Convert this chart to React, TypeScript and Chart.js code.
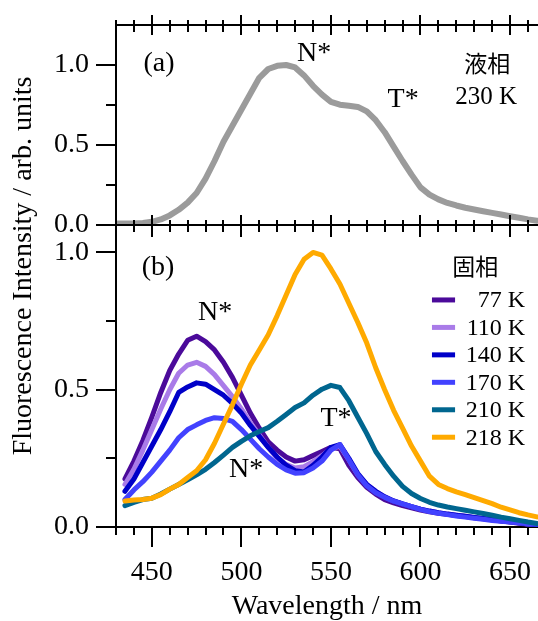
import React, { useEffect, useRef } from 'react';
import { Chart, registerables } from 'chart.js';

Chart.register(...registerables);

// ---------- data ----------
const liquidWavelengths = [
  430, 435, 440, 445, 450, 455, 460, 465, 470, 475,
  480, 485, 490, 495, 500, 505, 510, 515, 520, 525,
  530, 535, 540, 545, 550, 555, 560, 565, 570, 575,
  580, 585, 590, 595, 600, 605, 610, 615, 620, 625,
  630, 635, 640, 645, 650, 655, 660, 665,
];
const liquid230K = [
  0.01, 0.01, 0.01, 0.013, 0.02, 0.035, 0.06, 0.095, 0.14, 0.2,
  0.29, 0.4, 0.52, 0.62, 0.72, 0.82, 0.92, 0.975, 0.995, 1.0,
  0.985, 0.935, 0.87, 0.815, 0.77, 0.752, 0.745, 0.738, 0.71, 0.655,
  0.58, 0.49, 0.4, 0.315, 0.235, 0.19, 0.16, 0.138, 0.122, 0.108,
  0.097, 0.086, 0.076, 0.066, 0.055, 0.045, 0.035, 0.027,
];

const solidWavelengths = [
  435, 440, 445, 450, 455, 460, 465, 470, 475, 480,
  485, 490, 495, 500, 505, 510, 515, 520, 525, 530,
  535, 540, 545, 550, 555, 560, 565, 570, 575, 580,
  585, 590, 595, 600, 605, 610, 615, 620, 625, 630,
  635, 640, 645, 650, 655, 660, 665,
];
const solid77K = [
  0.175, 0.24, 0.315, 0.4, 0.49, 0.57, 0.63, 0.68, 0.695, 0.675,
  0.645, 0.6, 0.545, 0.48, 0.415, 0.36, 0.31, 0.28, 0.255, 0.24,
  0.245, 0.26, 0.275, 0.29, 0.285, 0.225, 0.18, 0.145, 0.12, 0.1,
  0.088, 0.078, 0.07, 0.062, 0.055, 0.05, 0.046, 0.042, 0.038, 0.034,
  0.03, 0.026, 0.022, 0.018, 0.014, 0.01, 0.007,
];
const solid110K = [
  0.155, 0.21, 0.28, 0.355, 0.43, 0.5, 0.56, 0.59, 0.6, 0.585,
  0.555, 0.515, 0.475, 0.43, 0.38, 0.335, 0.29, 0.25, 0.228, 0.215,
  0.22, 0.238, 0.26, 0.285, 0.295, 0.245, 0.19, 0.155, 0.13, 0.11,
  0.095, 0.084, 0.074, 0.065, 0.058, 0.052, 0.047, 0.043, 0.039, 0.035,
  0.031, 0.027, 0.023, 0.019, 0.015, 0.011, 0.008,
];
const solid140K = [
  0.13, 0.175, 0.235, 0.295, 0.355, 0.42, 0.49, 0.51, 0.525, 0.52,
  0.5, 0.48, 0.45, 0.415, 0.37, 0.33, 0.29, 0.255, 0.225, 0.205,
  0.2, 0.225, 0.255, 0.29, 0.3, 0.25, 0.195, 0.155, 0.13, 0.11,
  0.095, 0.084, 0.074, 0.065, 0.058, 0.052, 0.047, 0.043, 0.039, 0.035,
  0.031, 0.027, 0.023, 0.019, 0.015, 0.011, 0.008,
];
const solid170K = [
  0.1, 0.135, 0.165, 0.2, 0.24, 0.28, 0.325, 0.355, 0.372, 0.388,
  0.398, 0.395, 0.385, 0.355, 0.32, 0.285, 0.255, 0.228, 0.208, 0.196,
  0.198, 0.215, 0.24, 0.28, 0.3, 0.245, 0.19, 0.15, 0.125, 0.108,
  0.094, 0.084, 0.074, 0.064, 0.056, 0.05, 0.045, 0.04, 0.036, 0.032,
  0.028, 0.024, 0.021, 0.018, 0.015, 0.012, 0.01,
];
const solid210K = [
  0.078, 0.09, 0.1, 0.105, 0.12, 0.138, 0.155, 0.172, 0.19, 0.21,
  0.235, 0.262, 0.29, 0.312, 0.332, 0.348, 0.362, 0.385, 0.41, 0.435,
  0.452, 0.48, 0.502, 0.516, 0.508, 0.46, 0.4, 0.34, 0.275, 0.228,
  0.185, 0.148, 0.122, 0.104, 0.09, 0.08, 0.073, 0.067, 0.061, 0.055,
  0.049, 0.043, 0.036, 0.03, 0.024, 0.018, 0.013,
];
const solid218K = [
  0.095, 0.098, 0.1, 0.105, 0.118, 0.138, 0.155, 0.18, 0.205, 0.245,
  0.305, 0.375, 0.445, 0.52, 0.59, 0.645, 0.7, 0.77, 0.845, 0.92,
  0.975, 1.0, 0.99, 0.94, 0.885, 0.815, 0.745, 0.67, 0.58, 0.5,
  0.425, 0.36, 0.295, 0.24, 0.185, 0.155, 0.14, 0.128, 0.118, 0.107,
  0.096, 0.085, 0.072, 0.062, 0.052, 0.044, 0.037,
];

const solidSeries = [solid77K, solid110K, solid140K, solid170K, solid210K, solid218K];
const solidLabels = ['77 K', '110 K', '140 K', '170 K', '210 K', '218 K'];

const xMajorTicks = [450, 500, 550, 600, 650];
const xMinorTicks = [430, 440, 460, 470, 480, 490, 510, 520, 530, 540, 560, 570, 580, 590, 610, 620, 630, 640, 660];
const yMajorTicks = [0, 0.5, 1.0];
const yMinorTicks = [0.25, 0.75];

// ---------- styles ----------
const solidColors = ['#4b0a9a', '#a97be8', '#0000c8', '#4242ff', '#00668f', '#ffaa00'];
const liquidColor = '#9b9b9b';
const SERIF = '"Liberation Serif", "Times New Roman", serif';
const CJK = '"Noto Sans CJK JP", "Noto Sans CJK SC", sans-serif';

const axisDeco = {
  id: 'axisDeco',
  afterDraw(chart: any) {
    const ctx = chart.ctx;
    const x = chart.scales.x;
    const yT = chart.scales.yTop;
    const yB = chart.scales.y;
    const ca = chart.chartArea;
    ctx.save();
    ctx.strokeStyle = '#000';
    ctx.lineWidth = 2;
    const line = (x1: number, y1: number, x2: number, y2: number) => {
      ctx.beginPath();
      ctx.moveTo(x1, y1);
      ctx.lineTo(x2, y2);
      ctx.stroke();
    };
    const topY = Math.round(yT.top);
    const midY = Math.round(yT.bottom);
    const botY = Math.round(yB.bottom);
    const leftX = Math.round(ca.left);
    line(leftX - 1, topY, ca.right, topY);
    line(leftX - 1, midY, ca.right, midY);
    xMinorTicks.forEach((v) => {
      const px = Math.round(x.getPixelForValue(v));
      line(px, botY, px, botY + 8);
      line(px, topY - 5, px, topY + 7);
      line(px, midY - 5, px, midY + 7);
    });
    xMajorTicks.forEach((v) => {
      const px = Math.round(x.getPixelForValue(v));
      line(px, botY, px, botY + 20);
      line(px, topY - 10, px, topY + 10);
      line(px, midY - 10, px, midY + 12);
    });
    [yT, yB].forEach((s: any) => {
      yMajorTicks.forEach((v) => {
        const py = Math.round(s.getPixelForValue(v));
        line(leftX - 20, py, leftX, py);
      });
      yMinorTicks.forEach((v) => {
        const py = Math.round(s.getPixelForValue(v));
        line(leftX - 10, py, leftX, py);
      });
    });
    ctx.restore();
  },
};

const textDeco = {
  id: 'textDeco',
  afterDraw(chart: any) {
    const ctx = chart.ctx;
    const x = chart.scales.x;
    const yT = chart.scales.yTop;
    const yB = chart.scales.y;
    ctx.save();
    ctx.fillStyle = '#000';
    ctx.textAlign = 'center';
    ctx.textBaseline = 'middle';
    const put = (t: string, xv: number, yv: number, s: any, font: string) => {
      ctx.font = font;
      ctx.fillText(t, x.getPixelForValue(xv), s.getPixelForValue(yv));
    };
    const f28 = `28px ${SERIF}`;
    const f25 = `25px ${SERIF}`;
    put('(a)', 454, 1.006, yT, f28);
    put('N*', 540.6, 1.069, yT, f28);
    put('T*', 590.3, 0.781, yT, f28);
    put('液相', 637.2, 1.0125, yT, `23px ${CJK}`);
    put('230 K', 636.6, 0.8, yT, f25);
    put('(b)', 453.5, 0.943, yB, f28);
    put('N*', 485.3, 0.78, yB, f28);
    put('N*', 502.6, 0.208, yB, f28);
    put('T*', 552.8, 0.393, yB, f28);
    put('固相', 630.5, 0.951, yB, `23px ${CJK}`);

    // legend
    const lx1 = x.getPixelForValue(606.4);
    const lx2 = x.getPixelForValue(619.3);
    const tx = x.getPixelForValue(658.4);
    const y0 = yB.getPixelForValue(0.827);
    const step = yB.getPixelForValue(0.727) - y0;
    solidLabels.forEach((lab, i) => {
      const py = y0 + step * i;
      ctx.strokeStyle = solidColors[i];
      ctx.lineWidth = 5;
      ctx.beginPath();
      ctx.moveTo(lx1, py);
      ctx.lineTo(lx2, py);
      ctx.stroke();
      ctx.font = `24px ${SERIF}`;
      ctx.textAlign = 'right';
      ctx.fillText(lab, tx, py + 1);
    });

    // shared y-axis title
    ctx.font = f28;
    ctx.textAlign = 'center';
    ctx.translate(24, 266);
    ctx.rotate(-Math.PI / 2);
    ctx.fillText('Fluorescence Intensity / arb. units', 0, 0);
    ctx.restore();
  },
};

const noPad = (s: any) => {
  s.paddingLeft = 0;
  s.paddingRight = 0;
  s.paddingTop = 0;
  s.paddingBottom = 0;
};

export default function App() {
  const ref = useRef<HTMLCanvasElement | null>(null);
  useEffect(() => {
    document.body.style.margin = '0';
    const canvas = ref.current;
    if (!canvas) return;
    const datasets: any[] = solidSeries.map((vals, i) => ({
      label: solidLabels[i],
      data: solidWavelengths.map((w, j) => ({ x: w, y: vals[j] })),
      borderColor: solidColors[i],
      backgroundColor: solidColors[i],
      borderWidth: 5,
      yAxisID: 'y',
      order: 6 - i,
    }));
    datasets.push({
      label: '230 K',
      data: liquidWavelengths.map((w, j) => ({ x: w, y: liquid230K[j] })),
      borderColor: liquidColor,
      backgroundColor: liquidColor,
      borderWidth: 6,
      yAxisID: 'yTop',
      order: 7,
    });
    const yCommon = (min: number, max: number, weight: number) => ({
      type: 'linear',
      position: 'left',
      stack: 'panels',
      stackWeight: weight,
      min,
      max,
      grid: { display: false, drawTicks: false, tickLength: 0 },
      border: { display: true, color: '#000', width: 2 },
      ticks: {
        padding: 27,
        color: '#000',
        font: { family: SERIF, size: 28 },
        callback: (v: number) => v.toFixed(1),
      },
      afterBuildTicks: (s: any) => {
        s.ticks = yMajorTicks.map((v) => ({ value: v }));
      },
      afterFit: (s: any) => {
        s.width = 116;
        noPad(s);
      },
    });
    const chart = new Chart(canvas, {
      type: 'line',
      data: { datasets },
      options: {
        animation: false,
        responsive: false,
        devicePixelRatio: 1,
        layout: { padding: { top: 25, left: 0, right: 0, bottom: 0 } },
        plugins: {
          legend: { display: false },
          tooltip: { enabled: false },
        },
        elements: {
          point: { radius: 0 },
          line: { tension: 0, borderJoinStyle: 'round', borderCapStyle: 'round' },
        },
        scales: {
          x: {
            type: 'linear',
            min: 430,
            max: 665.6,
            grid: { display: false, drawTicks: false, tickLength: 0 },
            border: { display: true, color: '#000', width: 2 },
            ticks: {
              padding: 29,
              color: '#000',
              maxRotation: 0,
              autoSkip: false,
              font: { family: SERIF, size: 28 },
            },
            afterBuildTicks: (s: any) => {
              s.ticks = xMajorTicks.map((v) => ({ value: v }));
            },
            afterFit: (s: any) => {
              s.height = 94;
              noPad(s);
            },
            title: {
              display: true,
              text: 'Wavelength / nm',
              color: '#000',
              font: { family: SERIF, size: 28, lineHeight: 1 },
              padding: { top: 0, bottom: 0 },
            },
          },
          y: yCommon(0, 1.1, 302),
          yTop: yCommon(0, 1.25, 200),
        } as any,
      },
      plugins: [axisDeco, textDeco],
    } as any);
    return () => chart.destroy();
  }, []);
  return (
    <div style={{ position: 'fixed', left: 0, top: 0 }}>
      <canvas ref={ref} width={538} height={621} style={{ display: 'block', width: 538, height: 621 }} />
    </div>
  );
}
